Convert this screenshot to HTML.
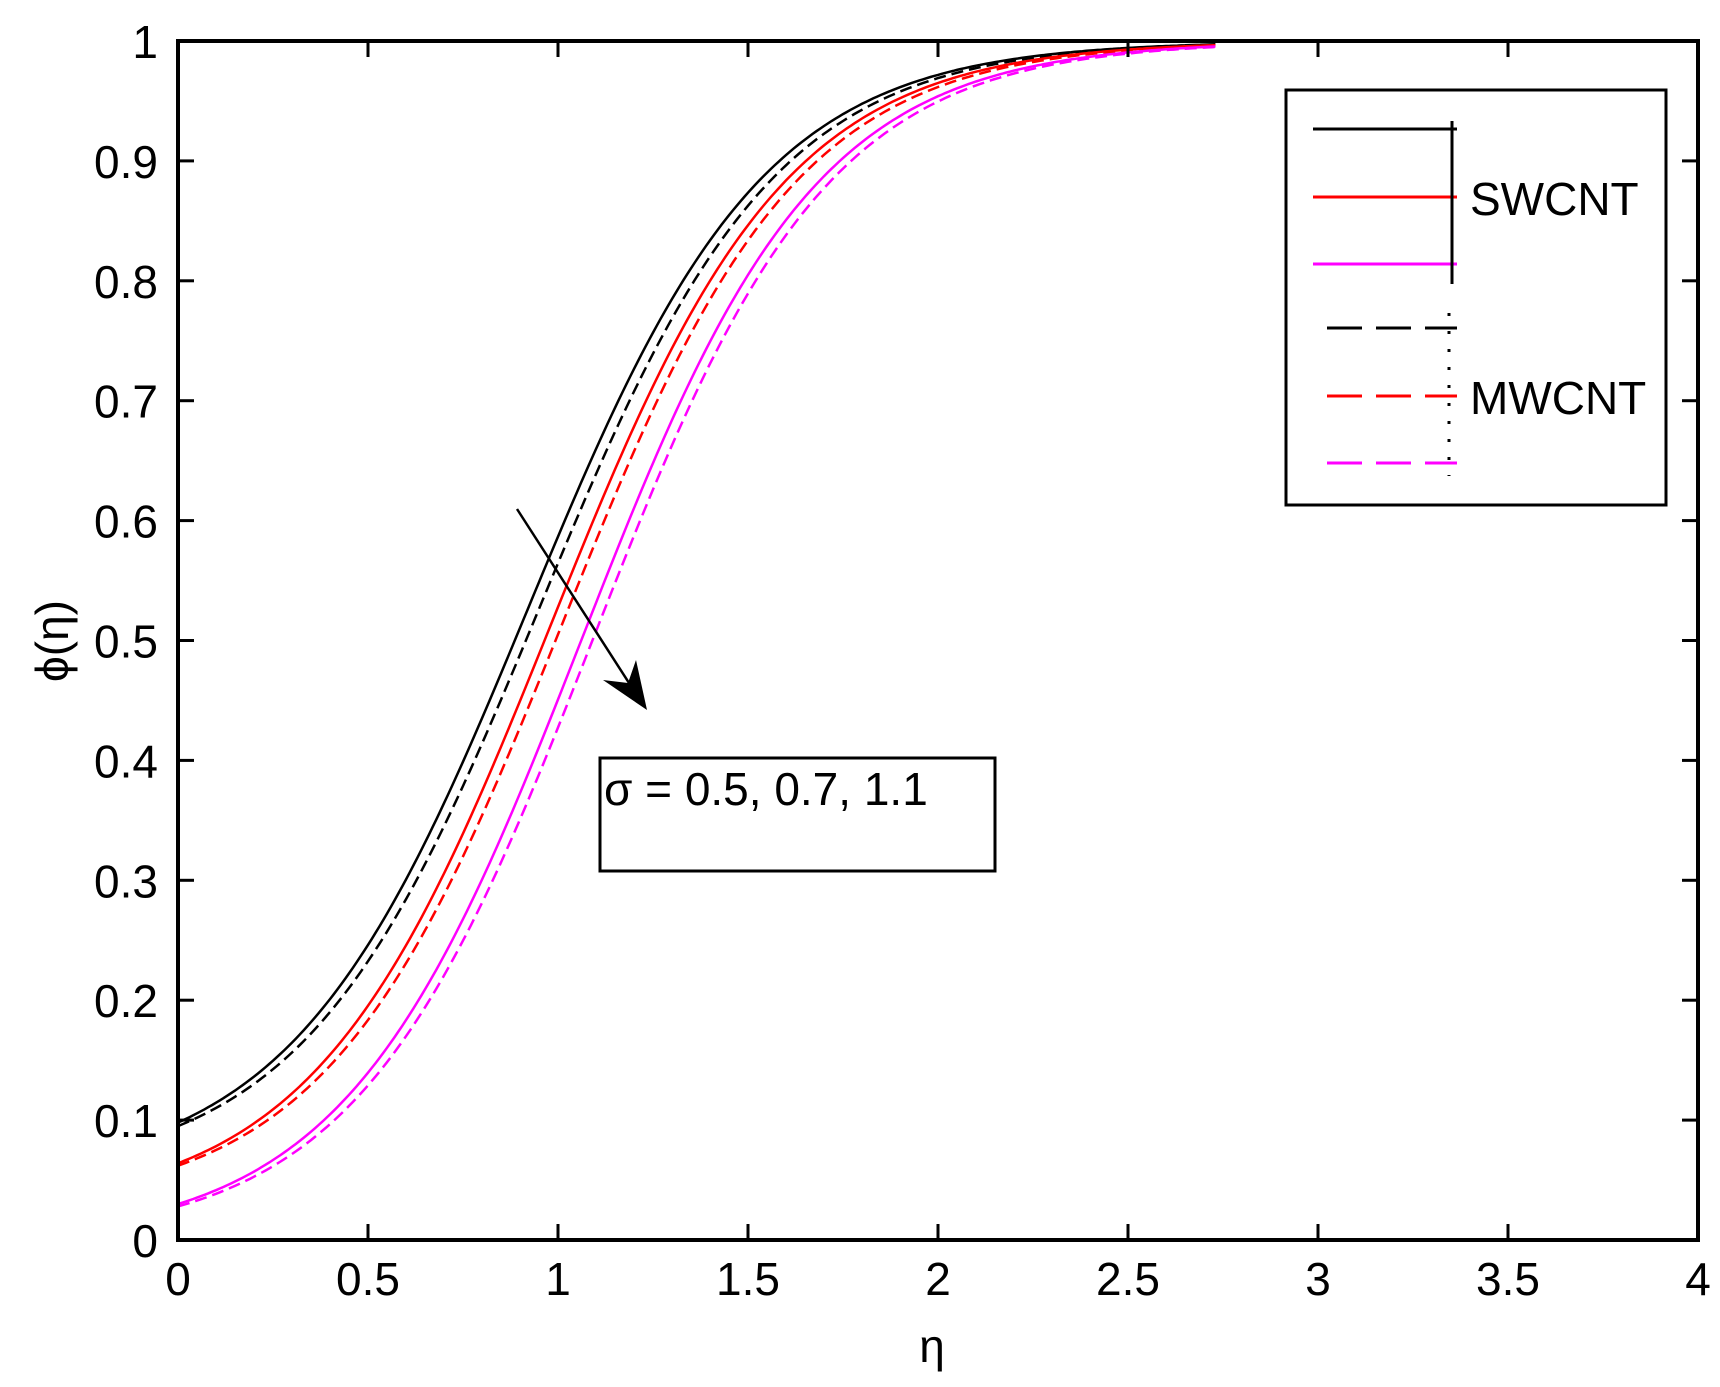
<!DOCTYPE html>
<html><head><meta charset="utf-8"><style>
html,body{margin:0;padding:0;background:#fff;}
svg{display:block;}
text{font-family:"Liberation Sans",sans-serif;font-size:46px;fill:#000;}
</style></head><body>
<svg id="s" width="1720" height="1387" xmlns="http://www.w3.org/2000/svg">
<rect width="1720" height="1387" fill="#fff"/>
<g id="curves" fill="none" stroke-width="2.5"></g>
<g id="ticks" stroke="#000" stroke-width="3"></g>
<rect x="178" y="41" width="1520" height="1199" fill="none" stroke="#000" stroke-width="4"/>
<g id="labels"></g>
<text x="932" y="1362" text-anchor="middle">η</text>
<text transform="translate(68,641) rotate(-90)" text-anchor="middle">ϕ(η)</text>
<rect x="1286" y="90" width="380" height="415" fill="#fff" stroke="#000" stroke-width="3"/>
<g stroke-width="3">
<line x1="1313" y1="129" x2="1457" y2="129" stroke="#000"/>
<line x1="1313" y1="197" x2="1457" y2="197" stroke="#f00"/>
<line x1="1313" y1="264" x2="1457" y2="264" stroke="#f0f"/>
<line x1="1452" y1="121" x2="1452" y2="284" stroke="#000"/>
<line x1="1327" y1="328" x2="1457" y2="328" stroke="#000" stroke-dasharray="35,14"/>
<line x1="1327" y1="396" x2="1457" y2="396" stroke="#f00" stroke-dasharray="35,14"/>
<line x1="1327" y1="463" x2="1457" y2="463" stroke="#f0f" stroke-dasharray="35,14"/>
<line x1="1449" y1="313" x2="1449" y2="476" stroke="#000" stroke-dasharray="3,15"/>
</g>
<text x="1470" y="215">SWCNT</text>
<text x="1470" y="414">MWCNT</text>
<rect x="600" y="758" width="395" height="113" fill="none" stroke="#000" stroke-width="3"/>
<text x="604" y="805">σ = 0.5, 0.7, 1.1</text>
<line x1="517" y1="509" x2="640" y2="700" stroke="#000" stroke-width="2.5"/>
<polygon points="647,710 603,680 628,683 636,660" fill="#000"/>
</svg>
<script>
var ns="http://www.w3.org/2000/svg";
function X(e){return 178+e*380;}
function Y(p){return 1240-p*1199;}
var curves=[
 {a:0.098,c:0.92,s:0.31,col:"#000",d:null},
 {a:0.095,c:0.95,s:0.31,col:"#000",d:"12,6"},
 {a:0.064,c:0.98,s:0.31,col:"#f00",d:null},
 {a:0.062,c:1.01,s:0.31,col:"#f00",d:"12,6"},
 {a:0.030,c:1.06,s:0.31,col:"#f0f",d:null},
 {a:0.028,c:1.09,s:0.31,col:"#f0f",d:"12,6"}];
var g=document.getElementById("curves");
curves.forEach(function(c){
 function L(e){return 1/(1+Math.exp(-(e-c.c)/c.s));}
 var L0=L(0),pts=[];
 for(var e=0;e<=2.73;e+=0.01){var p=c.a+(1-c.a)*(L(e)-L0)/(1-L0);pts.push(X(e).toFixed(1)+","+Y(p).toFixed(1));}
 var pl=document.createElementNS(ns,"polyline");
 pl.setAttribute("points",pts.join(" "));pl.setAttribute("stroke",c.col);
 if(c.d)pl.setAttribute("stroke-dasharray",c.d);
 g.appendChild(pl);
});
var t=document.getElementById("ticks"),lb=document.getElementById("labels");
function ln(x1,y1,x2,y2){var l=document.createElementNS(ns,"line");l.setAttribute("x1",x1);l.setAttribute("y1",y1);l.setAttribute("x2",x2);l.setAttribute("y2",y2);t.appendChild(l);}
function tx(x,y,s,anc){var e=document.createElementNS(ns,"text");e.setAttribute("x",x);e.setAttribute("y",y);e.setAttribute("text-anchor",anc);e.textContent=s;lb.appendChild(e);}
for(var i=0;i<=8;i++){var x=X(i*0.5);ln(x,1240,x,1224);ln(x,41,x,57);tx(x,1295,(i*0.5).toString(),"middle");}
for(var j=0;j<=10;j++){var y=Y(j/10);ln(178,y,194,y);ln(1698,y,1682,y);tx(158,y+17,j==0?"0":(j==10?"1":(j/10).toString()),"end");}
</script>
</body></html>
